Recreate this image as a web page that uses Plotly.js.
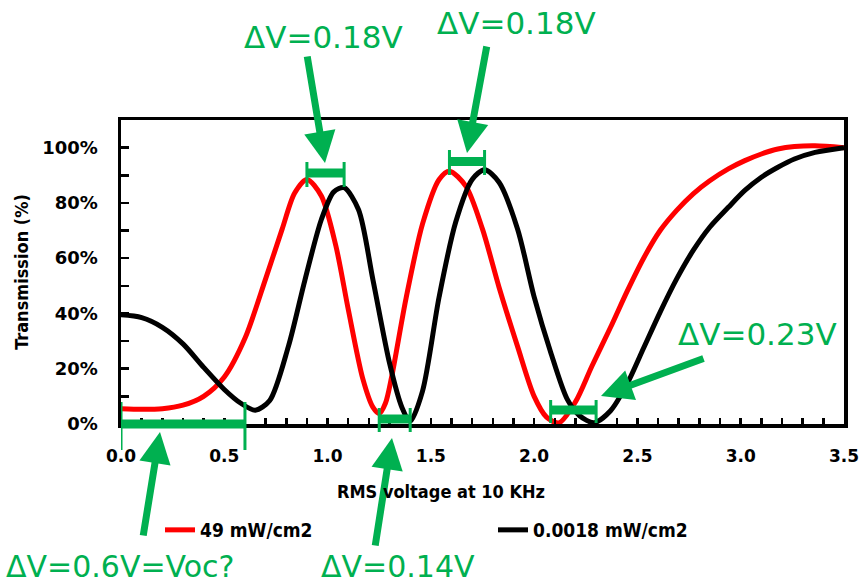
<!DOCTYPE html>
<html>
<head>
<meta charset="utf-8">
<script src="https://cdn.plot.ly/plotly-3.0.1.min.js"></script>
<style>html,body{margin:0;padding:0;background:#fff;}#chart{width:859px;height:586px;}</style>
</head>
<body>
<div id="chart"></div>
<script>
// ---- data ----
const redName = "49 mW/cm2";
const redV = [0.00,0.10,0.20,0.30,0.40,0.50,0.60,0.70,0.78,0.84,0.90,0.97,1.04,1.10,1.17,1.22,1.25,1.28,1.31,1.38,1.46,1.54,1.59,1.67,1.75,1.83,1.92,2.00,2.06,2.12,2.20,2.28,2.37,2.45,2.53,2.61,2.69,2.77,2.85,2.94,3.02,3.10,3.18,3.26,3.36,3.50];
const redT = [5.5,5.3,5.5,6.8,10,17,31,52.5,70.5,83.5,88.5,82.5,64.5,41.5,16.5,6,3.8,7.5,17,45.5,72.5,88.5,91.5,86,70.5,49.5,28,10,2.5,0.4,8,21,35,48,60,70,77.3,83.3,88,92.3,95.3,97.7,99.5,100.4,100.7,100];

const blackName = "0.0018 mW/cm2";
const blackV = [0.00,0.10,0.20,0.30,0.40,0.50,0.58,0.65,0.72,0.81,0.89,0.97,1.03,1.08,1.15,1.22,1.30,1.36,1.40,1.46,1.54,1.62,1.70,1.76,1.83,1.92,2.00,2.08,2.16,2.22,2.29,2.37,2.45,2.53,2.61,2.69,2.77,2.85,2.94,3.02,3.10,3.18,3.26,3.36,3.50];
const blackT = [39.5,38.5,35,29,20.5,12.5,7.5,5,8.5,28,52,74,84,85.5,77.5,52,22,6,1,12,46,73,88.5,92,87.5,70.5,46,26,9,3,0.5,4.8,14.5,27.5,40.5,52.5,62.8,71.2,78.4,84.5,89.3,92.9,95.9,98.3,100];

const yTickVals = [0,0.2,0.4,0.6,0.8,1.0];
const yTickText = ["0%","20%","40%","60%","80%","100%"];
const xTickVals = [0,0.5,1.0,1.5,2.0,2.5,3.0,3.5];

// voltage intervals marked in green and their labels
const spanStart = [0.00, 0.90, 1.25, 1.59, 2.08];
const spanEnd   = [0.60, 1.08, 1.40, 1.76, 2.30];
const spanLabel = ["ΔV=0.6V=Voc?", "ΔV=0.18V", "ΔV=0.14V", "ΔV=0.18V", "ΔV=0.23V"];

// ---- layout helpers (pixel -> paper) ----
const W = 859, H = 586;
const L = 121, R = 844, T = 120, B = 424;
const px = x => (x - L) / (R - L);
const py = y => (B - y) / (B - T);
const GREEN = "#00B050";
const condFont = "'DejaVu Sans Condensed','Liberation Sans Narrow','DejaVu Sans',sans-serif";

// bracket geometry (pixel y of bar, cap top, cap bottom)
const barY   = [424, 173, 419, 161.5, 410];
const capTop = [402, 162, 408, 150, 400];
const capBot = [450, 187, 432, 175, 423];
// label centres (pixels), label sizes, and arrow tail / tip (pixels)
const labX = [120, 323, 398, 516, 757];
const labY = [566, 37, 566, 23, 334];
const labS = [30, 31, 30, 31, 31];
const tail = [[143,537],[307,55],[375,547],[487,45],[705,358]];
const tip  = [[160,432],[325,163],[392,438],[467,153],[601,396]];

const shapes = [];
const annotations = [];
for (let i = 0; i < spanStart.length; i++) {
  shapes.push({type:"line", xref:"x", yref:"paper", x0:spanStart[i], x1:spanEnd[i], y0:py(barY[i]), y1:py(barY[i]), line:{color:GREEN, width:9}});
  [spanStart[i], spanEnd[i]].forEach(xv => shapes.push({type:"line", xref:"x", yref:"paper", x0:xv, x1:xv, y0:py(capTop[i]), y1:py(capBot[i]), line:{color:GREEN, width:3}}));
  annotations.push({xref:"paper", yref:"paper", x:px(labX[i]), y:py(labY[i]), xanchor:"center", yanchor:"middle", borderpad:0, text:spanLabel[i], showarrow:false, font:{family:"'DejaVu Sans',sans-serif", size:labS[i], color:GREEN}});
  annotations.push({xref:"paper", yref:"paper", x:px(tip[i][0]), y:py(tip[i][1]), text:"", showarrow:true, axref:"pixel", ayref:"pixel", ax:tail[i][0]-tip[i][0], ay:tail[i][1]-tip[i][1], arrowhead:2, arrowsize:0.9, arrowwidth:7, arrowcolor:GREEN, standoff:0});
}
annotations.push({xref:"paper", yref:"paper", x:px(441), y:py(491), xanchor:"center", yanchor:"middle", text:"RMS voltage at 10 KHz", showarrow:false, font:{family:condFont, size:18, color:"#000", weight:"bold"}});

const traces = [
  {x:redV, y:redT.map(v=>v/100), name:redName, type:"scatter", mode:"lines", legend:"legend", line:{color:"#FF0000", width:5, shape:"spline", smoothing:0.8}},
  {x:blackV, y:blackT.map(v=>v/100), name:blackName, type:"scatter", mode:"lines", legend:"legend2", line:{color:"#000000", width:5, shape:"spline", smoothing:0.8}}
];

const legFont = {family:condFont, size:19, color:"#000", weight:"bold"};
const layout = {
  width:W, height:H,
  margin:{l:L, r:W-R, t:T, b:H-B},
  paper_bgcolor:"#fff", plot_bgcolor:"#fff",
  showlegend:true,
  legend:{orientation:"h", x:px(160), y:py(530), xanchor:"left", yanchor:"middle", font:legFont, bgcolor:"rgba(0,0,0,0)"},
  legend2:{orientation:"h", x:px(493), y:py(530), xanchor:"left", yanchor:"middle", font:legFont, bgcolor:"rgba(0,0,0,0)"},
  xaxis:{range:[-0.0001,3.5001], tickvals:xTickVals, tickformat:".1f", showgrid:false, zeroline:false,
    showline:true, mirror:true, linecolor:"#000", linewidth:3.5, ticklabeloverflow:"allow",
    ticks:"inside", ticklen:6, tickwidth:2.5, tickcolor:"#000", ticklabelstandoff:14,
    minor:{dtick:0.1, tick0:0, ticks:"inside", ticklen:6, tickwidth:2.5, tickcolor:"#000", showgrid:false},
    tickfont:{family:"'DejaVu Sans',sans-serif", size:17, color:"#000", weight:"bold"}},
  yaxis:{range:[0,1.1], tickvals:yTickVals, ticktext:yTickText, showgrid:false, zeroline:false,
    showline:true, mirror:true, linecolor:"#000", linewidth:3.5,
    ticks:"inside", ticklen:8, tickwidth:2.5, tickcolor:"#000", ticklabelstandoff:16,
    minor:{tickvals:[0.1,0.3,0.5,0.7,0.9], ticks:"inside", ticklen:8, tickwidth:2.5, tickcolor:"#000", showgrid:false},
    tickfont:{family:"'DejaVu Sans',sans-serif", size:18, color:"#000", weight:"bold"},
    title:{text:"Transmission (%)", standoff:10, font:{family:condFont, size:18, color:"#000", weight:"bold"}}},
  shapes:shapes,
  annotations:annotations
};

Plotly.newPlot("chart", traces, layout, {displayModeBar:false, staticPlot:true});
</script>
</body>
</html>
